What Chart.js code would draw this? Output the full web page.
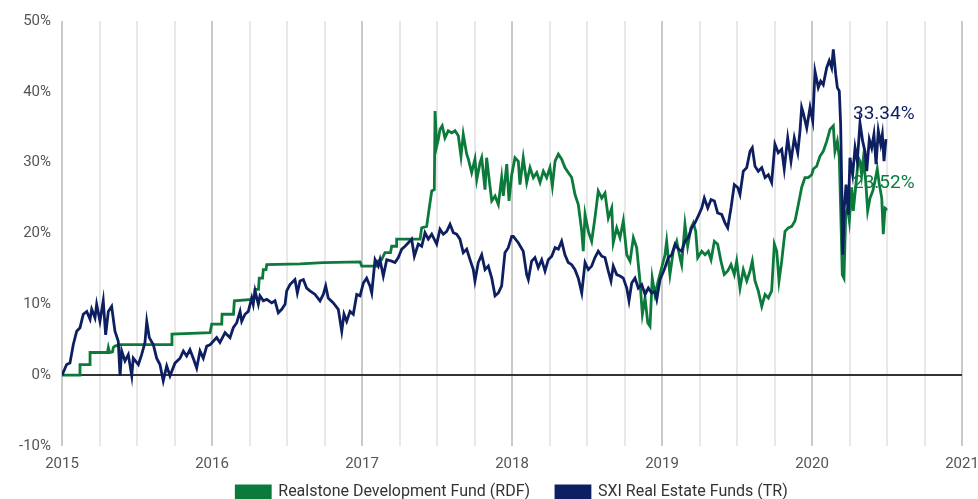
<!DOCTYPE html>
<html>
<head>
<meta charset="utf-8">
<script src="https://cdn.jsdelivr.net/npm/chart.js@4/dist/chart.umd.min.js"></script>
<style>
  html, body { margin: 0; padding: 0; background: #fff; }
  #wrap { width: 978px; height: 499px; overflow: hidden; }
</style>
</head>
<body>
<div id="wrap"><canvas id="grafico" width="978" height="499"></canvas></div>
<script>
// Séries (data em anos decimais, retorno acumulado em %)
const nomeRdf = 'Realstone Development Fund (RDF)';
const nomeSxi = 'SXI Real Estate Funds (TR)';

const rdfAnos = [
  2015.000, 2015.120, 2015.120, 2015.187, 2015.187, 2015.303, 2015.309, 2015.317, 2015.337, 2015.342,
  2015.353, 2015.387, 2015.731, 2015.733, 2015.987, 2015.998, 2016.065, 2016.067, 2016.143, 2016.149,
  2016.265, 2016.267, 2016.283, 2016.287, 2016.310, 2016.315, 2016.337, 2016.342, 2016.360, 2016.365,
  2016.587, 2016.742, 2016.987, 2016.998, 2017.098, 2017.103, 2017.131, 2017.153, 2017.190, 2017.198,
  2017.227, 2017.231, 2017.387, 2017.398, 2017.431, 2017.447, 2017.465, 2017.482, 2017.487, 2017.498,
  2017.509, 2017.520, 2017.535, 2017.553, 2017.575, 2017.598, 2017.620, 2017.642, 2017.660, 2017.675,
  2017.698, 2017.709, 2017.731, 2017.753, 2017.765, 2017.787, 2017.798, 2017.820, 2017.831, 2017.853,
  2017.865, 2017.887, 2017.909, 2017.931, 2017.942, 2017.965, 2017.980, 2017.998, 2018.020, 2018.042,
  2018.053, 2018.075, 2018.098, 2018.120, 2018.142, 2018.165, 2018.187, 2018.209, 2018.231, 2018.253,
  2018.269, 2018.287, 2018.309, 2018.331, 2018.353, 2018.375, 2018.398, 2018.420, 2018.442, 2018.465,
  2018.475, 2018.487, 2018.509, 2018.531, 2018.553, 2018.575, 2018.598, 2018.620, 2018.642, 2018.665,
  2018.675, 2018.698, 2018.720, 2018.742, 2018.765, 2018.787, 2018.809, 2018.831, 2018.853, 2018.869,
  2018.887, 2018.905, 2018.920, 2018.935, 2018.953, 2018.975, 2018.998, 2019.020, 2019.031, 2019.053,
  2019.075, 2019.098, 2019.120, 2019.131, 2019.153, 2019.171, 2019.193, 2019.209, 2019.225, 2019.238,
  2019.265, 2019.287, 2019.309, 2019.327, 2019.349, 2019.371, 2019.393, 2019.415, 2019.438, 2019.460,
  2019.482, 2019.498, 2019.520, 2019.542, 2019.565, 2019.587, 2019.602, 2019.620, 2019.642, 2019.665,
  2019.687, 2019.709, 2019.731, 2019.749, 2019.765, 2019.780, 2019.798, 2019.820, 2019.842, 2019.865,
  2019.887, 2019.909, 2019.931, 2019.953, 2019.975, 2019.998, 2020.009, 2020.031, 2020.053, 2020.075,
  2020.098, 2020.120, 2020.142, 2020.153, 2020.169, 2020.182, 2020.191, 2020.202, 2020.213, 2020.225,
  2020.238, 2020.249, 2020.265, 2020.275, 2020.293, 2020.309, 2020.320, 2020.331, 2020.342, 2020.358,
  2020.371, 2020.387, 2020.405, 2020.420, 2020.435, 2020.449, 2020.465, 2020.475, 2020.487, 2020.493
];
const rdfRetorno = [
  0, 0, 1.5, 1.5, 3.2, 3.2, 3.9, 3.2, 3.3, 3.9,
  4.1, 4.3, 4.3, 5.8, 6.0, 7.2, 7.2, 8.6, 8.6, 10.5,
  10.7, 10.9, 10.9, 12.1, 12.1, 13.7, 13.7, 14.9, 14.9, 15.6,
  15.7, 15.9, 16.0, 15.4, 15.4, 16.1, 16.3, 17.3, 17.3, 18.2,
  18.2, 19.2, 19.2, 20.8, 21.0, 23.4, 26.0, 26.2, 37.3, 32.3,
  33.3, 34.7, 35.2, 33.5, 34.5, 34.2, 34.5, 33.8, 30.9, 34.0,
  31.2, 30.5, 28.6, 30.5, 27.6, 30.0, 30.7, 26.2, 30.7, 26.7,
  24.6, 25.3, 24.1, 27.9, 25.3, 29.8, 24.6, 28.3, 30.7, 30.2,
  26.9, 30.7, 27.2, 29.3, 27.9, 28.6, 27.2, 28.8, 27.9, 29.3,
  26.7, 30.2, 31.2, 30.5, 29.3, 28.6, 27.9, 25.5, 24.1, 20.3,
  17.5, 22.7, 20.3, 18.9, 22.2, 26.0, 25.0, 25.7, 22.2, 23.6,
  18.7, 20.8, 19.4, 21.8, 17.0, 16.1, 19.4, 18.0, 13.3, 8.6,
  10.9, 7.4, 6.9, 13.7, 11.4, 13.3, 15.2, 17.0, 18.9, 14.2,
  17.5, 18.9, 16.6, 15.6, 21.3, 18.2, 20.8, 21.5, 20.3, 16.6,
  17.5, 17.0, 17.5, 16.3, 18.9, 18.5, 16.1, 14.2, 14.7, 15.6,
  14.2, 16.1, 12.3, 14.9, 13.3, 14.7, 16.1, 13.3, 11.9, 9.7,
  11.4, 10.9, 11.9, 18.5, 17.5, 13.3, 16.1, 20.3, 20.8, 21.0,
  21.8, 24.1, 26.5, 27.9, 27.9, 28.3, 29.1, 29.5, 30.9, 31.6,
  33.0, 34.7, 35.2, 31.6, 33.0, 30.7, 23.6, 14.2, 13.7, 22.7,
  23.6, 21.8, 26.5, 23.2, 26.9, 30.7, 30.2, 28.3, 30.5, 27.4,
  23.2, 25.0, 26.0, 27.4, 29.1, 26.9, 25.0, 19.9, 23.6, 23.52
];

const sxiAnos = [
  2015.000, 2015.031, 2015.053, 2015.075, 2015.098, 2015.120, 2015.142, 2015.165, 2015.187, 2015.198,
  2015.220, 2015.231, 2015.253, 2015.275, 2015.291, 2015.309, 2015.331, 2015.353, 2015.375, 2015.387,
  2015.398, 2015.420, 2015.442, 2015.465, 2015.475, 2015.509, 2015.531, 2015.553, 2015.565, 2015.582,
  2015.609, 2015.631, 2015.653, 2015.675, 2015.698, 2015.720, 2015.753, 2015.787, 2015.809, 2015.831,
  2015.853, 2015.875, 2015.898, 2015.920, 2015.942, 2015.965, 2015.987, 2016.031, 2016.053, 2016.087,
  2016.120, 2016.142, 2016.165, 2016.187, 2016.198, 2016.220, 2016.242, 2016.265, 2016.275, 2016.287,
  2016.309, 2016.320, 2016.342, 2016.365, 2016.398, 2016.420, 2016.442, 2016.465, 2016.487, 2016.498,
  2016.520, 2016.553, 2016.569, 2016.587, 2016.609, 2016.631, 2016.653, 2016.687, 2016.720, 2016.742,
  2016.758, 2016.775, 2016.809, 2016.842, 2016.865, 2016.880, 2016.898, 2016.920, 2016.942, 2016.965,
  2016.987, 2017.009, 2017.031, 2017.053, 2017.065, 2017.087, 2017.109, 2017.120, 2017.142, 2017.165,
  2017.198, 2017.220, 2017.242, 2017.265, 2017.287, 2017.309, 2017.331, 2017.349, 2017.375, 2017.398,
  2017.420, 2017.442, 2017.465, 2017.498, 2017.520, 2017.542, 2017.565, 2017.587, 2017.609, 2017.631,
  2017.653, 2017.675, 2017.698, 2017.720, 2017.742, 2017.753, 2017.775, 2017.798, 2017.820, 2017.842,
  2017.865, 2017.887, 2017.909, 2017.931, 2017.953, 2017.975, 2017.998, 2018.009, 2018.042, 2018.075,
  2018.098, 2018.109, 2018.131, 2018.153, 2018.175, 2018.198, 2018.220, 2018.242, 2018.265, 2018.287,
  2018.309, 2018.331, 2018.353, 2018.375, 2018.398, 2018.420, 2018.442, 2018.465, 2018.487, 2018.509,
  2018.531, 2018.553, 2018.575, 2018.598, 2018.620, 2018.642, 2018.660, 2018.675, 2018.698, 2018.720,
  2018.742, 2018.765, 2018.780, 2018.798, 2018.820, 2018.842, 2018.865, 2018.887, 2018.909, 2018.931,
  2018.953, 2018.965, 2018.987, 2019.009, 2019.020, 2019.042, 2019.065, 2019.087, 2019.109, 2019.131,
  2019.153, 2019.175, 2019.198, 2019.220, 2019.242, 2019.265, 2019.282, 2019.305, 2019.327, 2019.349,
  2019.371, 2019.398, 2019.420, 2019.438, 2019.460, 2019.482, 2019.505, 2019.520, 2019.542, 2019.565,
  2019.587, 2019.602, 2019.620, 2019.642, 2019.665, 2019.687, 2019.709, 2019.731, 2019.753, 2019.775,
  2019.798, 2019.815, 2019.838, 2019.860, 2019.882, 2019.905, 2019.920, 2019.931, 2019.942, 2019.965,
  2019.987, 2020.005, 2020.020, 2020.042, 2020.058, 2020.075, 2020.098, 2020.115, 2020.131, 2020.142,
  2020.158, 2020.169, 2020.182, 2020.191, 2020.198, 2020.205, 2020.215, 2020.227, 2020.242, 2020.253,
  2020.271, 2020.287, 2020.302, 2020.320, 2020.338, 2020.353, 2020.365, 2020.382, 2020.398, 2020.413,
  2020.427, 2020.442, 2020.458, 2020.469, 2020.480, 2020.493
];
const sxiRetorno = [
  0, 1.5, 1.7, 4.3, 6.2, 6.7, 8.6, 9.0, 7.9, 9.3,
  8.1, 10.0, 7.6, 10.5, 5.7, 9.0, 9.7, 6.2, 4.8, -0.1,
  3.4, 2.0, 2.9, -0.1, 2.4, 1.5, 2.9, 4.6, 7.6, 5.3,
  4.3, 2.4, 1.5, -0.8, 1.3, -0.1, 1.7, 2.4, 3.4, 2.7,
  3.6, 2.4, 1.0, 3.4, 2.4, 4.1, 4.3, 5.3, 4.6, 6.0,
  5.3, 6.7, 7.4, 9.0, 7.6, 8.6, 9.0, 10.9, 10.0, 11.9,
  10.0, 11.2, 10.5, 10.7, 10.2, 10.5, 8.8, 9.3, 10.0, 11.9,
  12.8, 13.5, 11.6, 13.3, 13.5, 12.3, 11.9, 11.4, 10.5, 11.4,
  12.6, 10.9, 10.2, 9.3, 6.2, 8.6, 7.6, 9.0, 8.6, 11.4,
  11.2, 13.0, 13.7, 12.6, 11.6, 16.3, 15.4, 16.3, 14.0, 16.3,
  16.1, 15.9, 16.6, 17.8, 18.2, 18.7, 19.2, 16.8, 18.5, 18.2,
  20.1, 19.2, 19.9, 18.5, 20.6, 19.9, 20.3, 21.3, 20.1, 19.9,
  19.2, 17.3, 17.8, 16.3, 14.9, 13.3, 15.9, 17.0, 14.9, 15.4,
  13.7, 11.2, 11.6, 12.6, 17.3, 18.0, 19.6, 19.6, 18.7, 17.5,
  14.2, 13.5, 16.1, 16.6, 15.2, 16.3, 14.7, 16.3, 16.8, 18.0,
  17.8, 18.9, 17.0, 15.9, 15.6, 14.9, 13.7, 11.6, 15.9, 14.9,
  15.4, 16.6, 17.5, 16.8, 16.6, 14.7, 13.3, 15.4, 14.2, 14.0,
  13.7, 12.3, 10.5, 13.0, 13.7, 12.3, 12.8, 11.4, 12.3, 11.6,
  11.8, 10.7, 13.5, 14.6, 15.2, 16.6, 17.0, 18.5, 17.8, 17.5,
  18.9, 19.4, 20.8, 21.5, 22.5, 23.6, 25.0, 23.6, 24.8, 24.6,
  22.9, 22.7, 21.5, 20.8, 23.6, 26.9, 26.5, 25.5, 28.8, 29.3,
  31.6, 32.1, 29.5, 28.8, 29.3, 27.9, 28.3, 27.2, 32.6, 31.4,
  31.9, 29.1, 33.5, 30.2, 33.5, 31.4, 34.5, 37.8, 37.0, 34.9,
  37.8, 35.9, 42.9, 40.6, 41.5, 41.0, 43.4, 44.4, 43.4, 46.0,
  42.5, 40.6, 40.1, 35.4, 26.9, 17.0, 23.6, 26.9, 22.7, 30.7,
  28.3, 32.1, 30.2, 35.6, 33.0, 31.6, 28.8, 33.3, 32.1, 34.0,
  29.8, 34.5, 32.6, 34.0, 30.2, 33.34
];

const anosEixo = [2015, 2021];
const limitesEixoY = [-10, 50];

const corRdf = '#0b7a3a';
const corSxi = '#0d1f60';
const fonte = 'Roboto, "DejaVu Sans", sans-serif';

function montarPontos(anos, valores) {
  return anos.map((ano, i) => ({ x: ano, y: valores[i] }));
}

// Rótulo com o último valor de cada série, perto do fim da linha
const rotulosFinais = {
  id: 'rotulosFinais',
  afterDatasetsDraw(chart) {
    const ctx = chart.ctx;
    ctx.save();
    ctx.font = '19px ' + fonte;
    ctx.textAlign = 'left';
    ctx.textBaseline = 'middle';
    chart.data.datasets.forEach((ds, i) => {
      const meta = chart.getDatasetMeta(i);
      const ultimo = meta.data[meta.data.length - 1];
      const valor = ds.data[ds.data.length - 1].y;
      ctx.fillStyle = ds.borderColor;
      ctx.fillText(valor.toFixed(2) + '%', ultimo.x - 33, ultimo.y - 25);
    });
    ctx.restore();
  }
};

const ctxGrafico = document.getElementById('grafico').getContext('2d');
new Chart(ctxGrafico, {
  type: 'line',
  data: {
    datasets: [
      {
        label: nomeRdf + '    ', // espaço extra entre os itens da legenda
        data: montarPontos(rdfAnos, rdfRetorno),
        borderColor: corRdf,
        backgroundColor: corRdf,
        borderWidth: 2.8,
        pointRadius: 0,
        tension: 0,
        order: 2
      },
      {
        label: nomeSxi,
        data: montarPontos(sxiAnos, sxiRetorno),
        borderColor: corSxi,
        backgroundColor: corSxi,
        borderWidth: 2.8,
        pointRadius: 0,
        tension: 0,
        order: 1
      }
    ]
  },
  options: {
    responsive: false,
    animation: false,
    layout: { padding: { top: 21, right: 16, left: 0, bottom: -11 } },
    scales: {
      x: {
        type: 'linear',
        min: anosEixo[0],
        max: anosEixo[1],
        afterFit: (scale) => {
          scale.height = 28;
          scale.paddingLeft = 0;
          scale.paddingRight = 0;
        },
        ticks: {
          stepSize: 0.25,
          autoSkip: false,
          maxRotation: 0,
          color: '#555',
          font: { family: fonte, size: 15 },
          padding: 9,
          callback: (v) => (Number.isInteger(v) ? String(v) : '')
        },
        grid: {
          drawTicks: false,
          lineWidth: 2,
          color: (c) => (c.tick && Number.isInteger(c.tick.value) ? '#cacaca' : '#e8e8e8')
        },
        border: { display: false }
      },
      y: {
        min: limitesEixoY[0],
        max: limitesEixoY[1],
        afterFit: (scale) => { scale.width = 62; },
        ticks: {
          stepSize: 10,
          color: '#555',
          font: { family: fonte, size: 15 },
          padding: 11,
          callback: (v) => v + '%'
        },
        grid: {
          drawTicks: false,
          lineWidth: 2,
          color: (c) => (c.tick && c.tick.value === 0 ? '#333' : 'rgba(0,0,0,0)')
        },
        border: { display: false }
      }
    },
    plugins: {
      legend: {
        position: 'bottom',
        fullSize: false,
        labels: {
          boxWidth: 34,
          boxHeight: 12,
          color: '#333',
          padding: 10,
          font: { family: fonte, size: 16 },
          sort: (a, b) => a.datasetIndex - b.datasetIndex
        }
      },
      tooltip: { enabled: false }
    }
  },
  plugins: [rotulosFinais]
});
</script>
</body>
</html>
